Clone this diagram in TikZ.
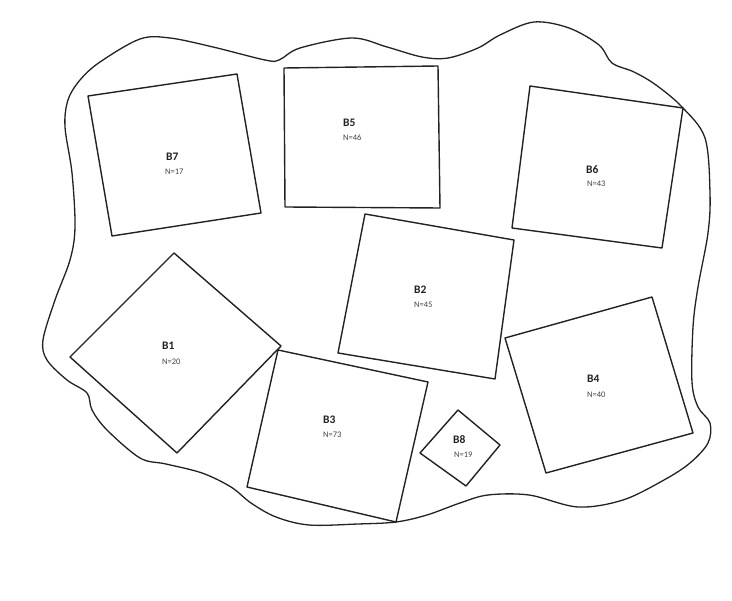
\documentclass[tikz,border=0pt]{standalone}
\usepackage{fontspec}
\setmainfont{Carlito}
\definecolor{ink}{HTML}{222222}
\begin{document}
\begin{tikzpicture}[x=1pt,y=-1pt,
  outline/.style={draw=ink, line width=1.3pt, line join=round},
  plotbox/.style={draw=ink, line width=1.4pt, line join=round},
  lbl/.style={anchor=west, inner sep=0pt, text=ink, font=\bfseries\fontsize{11.5}{13}\selectfont},
  cnt/.style={anchor=west, inner sep=0pt, text=ink!85, font=\fontsize{8.5}{10}\selectfont}]
\useasboundingbox (0,0) rectangle (732,601);
\fill[white] (0,0) rectangle (732,601);
% outer boundary
\draw[outline] plot[smooth cycle, tension=0.55] coordinates {
 (100,62) (140,39) (170,38) (213,47) (265,60) (279,60) (300,48) (352,38)
 (387,47) (422,57) (448,58) (478,48) (500,35) (534,22) (569,28) (599,45) (612,63)
 (634,72) (656,85) (682,107) (705,138) (710,193) (708,233) (698,287) (693,327)
 (692,382) (698,407) (710,423) (708,443) (690,463) (664,480) (623,500) (578,507)
 (529,495) (488,495) (460,503) (427,515) (396,522) (358,524) (309,525) (276,517)
 (251,503) (231,487) (202,473) (166,464) (140,458) (107,430) (92,410) (87,393)
 (67,380) (47,360) (43,340) (55,300) (70,260) (75,227) (72,173) (65,127) (68,100) (80,80)};
% plots
\draw[plotbox] (88,96) -- (237,74) -- (261,213) -- (112,236) -- cycle;
\draw[plotbox] (284,68) -- (438,66) -- (440,208) -- (285,207) -- cycle;
\draw[plotbox] (530,86) -- (683,108) -- (662,248) -- (512,228) -- cycle;
\draw[plotbox] (174,253) -- (281,346) -- (177,453) -- (70,357) -- cycle;
\draw[plotbox] (365,214) -- (514,240) -- (495,379) -- (338,353) -- cycle;
\draw[plotbox] (278,350) -- (428,382) -- (396,522) -- (247,487) -- cycle;
\draw[plotbox] (458,410) -- (500,445) -- (466,486) -- (420,453) -- cycle;
\draw[plotbox] (505,338) -- (652,297) -- (693,433) -- (546,473) -- cycle;
% labels
\node[lbl] (b7) at (166,157) {B7}; \node[cnt] (n7) at (165,172) {N=17};
\node[lbl] (b5) at (343,123) {B5}; \node[cnt] (n5) at (343,138) {N=46};
\node[lbl] (b6) at (586,170) {B6}; \node[cnt] (n6) at (587,184) {N=43};
\node[lbl] (b1) at (162,346) {B1}; \node[cnt] (n1) at (162,362) {N=20};
\node[lbl] (b2) at (414,290) {B2}; \node[cnt] (n2) at (414,305) {N=45};
\node[lbl] (b3) at (323,420) {B3}; \node[cnt] (n3) at (323,435) {N=73};
\node[lbl] (b8) at (453,440) {B8}; \node[cnt] (n8) at (454,455) {N=19};
\node[lbl] (b4) at (587,379) {B4}; \node[cnt] (n4) at (587,395) {N=40};
\end{tikzpicture}
\end{document}
